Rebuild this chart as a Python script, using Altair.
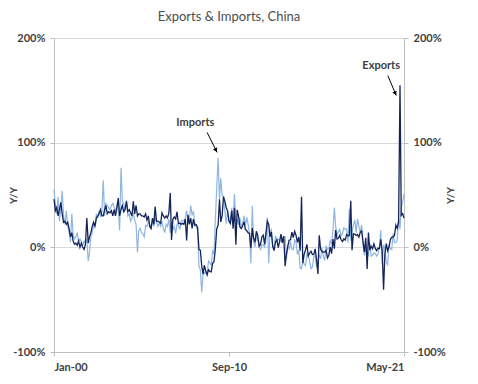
import altair as alt
import pandas as pd

# ---------------- data (Y/Y %, monthly Jan-2000 .. May-2021) ----------------
exports = [
    46, 35, 38, 30, 36, 43, 32, 24, 25, 22, 24, 18,          # 2000
    10, 14, 6, 3, 4, 2, 6, 0, 4, 0, -2, 3,                   # 2001
    28, 4, 10, 14, 20, 24, 20, 28, 30, 32, 36, 30,           # 2002
    30, 36, 40, 32, 34, 33, 35, 30, 36, 30, 38, 47,          # 2003
    30, 36, 40, 34, 36, 44, 34, 36, 33, 30, 44, 32,          # 2004
    40, 30, 32, 32, 30, 30, 29, 32, 26, 30, 20, 18,          # 2005
    28, 22, 39, 25, 25, 24, 23, 33, 30, 28, 30, 28,          # 2006
    33, 52, 7, 27, 29, 27, 34, 23, 23, 22, 23, 22,           # 2007
    27, 6.5, 31, 22, 28, 18, 27, 21, 21.5, 19, -2.2, -2.8,   # 2008
    -17.5, -25.7, -17.1, -22.6, -26.4, -21.4, -23, -23.4, -15.2, -13.8, -1.2, 17.7,  # 2009
    21, 45.7, 24.3, 30.5, 48.5, 43.9, 38.1, 34.4, 25.1, 22.9, 34.9, 17.9,            # 2010
    37.7, 2.4, 35.8, 29.9, 19.4, 17.9, 20.4, 24.5, 17.1, 15.9, 13.8, 13.4,           # 2011
    -0.5, 18.4, 8.9, 4.9, 15.3, 11.3, 1.0, 2.7, 9.9, 11.6, 2.9, 14.1,                # 2012
    25, 21.8, 10, 14.7, 1, -3.1, 5.1, 7.2, -0.3, 5.6, 12.7, 4.3,                     # 2013
    10.6, -18.1, -6.6, 0.9, 7, 7.2, 14.5, 9.4, 15.3, 11.6, 4.7, 9.7,                 # 2014
    -3.3, 48.3, -15, -6.4, -2.5, 2.8, -8.3, -5.5, -3.7, -6.9, -6.8, -1.4,            # 2015
    -11.2, -25.4, 11.5, -1.8, -4.1, -4.8, -4.4, -2.8, -10, -7.3, 0.1, -6.1,          # 2016
    7.9, -1.3, 16.4, 8, 8.7, 11.3, 7.2, 5.5, 8.1, 6.9, 12.3, 10.9,                   # 2017
    11.1, 44.5, -2.7, 12.9, 12.6, 11.3, 12.2, 9.8, 14.5, 15.6, 5.4, -4.4,            # 2018
    9.1, -20.7, 14.2, -2.7, 1.1, -1.3, 3.3, -1, -3.2, -0.9, -1.1, 7.6,               # 2019
    -3.5, -40.6, -6.6, 3.5, -3.3, 0.5, 7.2, 9.5, 9.9, 11.4, 21.1, 18.1,              # 2020
    24.7, 154.9, 30.6, 32.3, 27.9,                                                    # 2021
]
imports = [
    55, 40, 32, 48, 25, 38, 54, 30, 22, 35, 20, 15,          # 2000
    5, 32, 12, 8, 10, 14, 6, 8, 5, 2, 6, 4,                  # 2001
    8, -13, -5, 10, 14, 22, 18, 32, 28, 35, 30, 34,          # 2002
    64, 30, 42, 40, 38, 36, 40, 42, 38, 35, 40, 38,          # 2003
    16, 76, 44, 42, 36, 45, 30, 32, 25, 28, 32, 26,          # 2004
    22, -5, 16, 18, 14, 13, 10, 21, 20, 24, 22, 17,          # 2005
    25, 20, 29, 24, 20, 23, 20, 25, 18, 14, 22, 20,          # 2006
    27, 14, 24.5, 17, 20, 13.4, 22, 22, 17, 25.5, 25.3, 25.7,                        # 2007
    27.6, 35.2, 24.6, 26.3, 40, 31.2, 33.7, 23.1, 21.3, 15.6, -17.9, -21.3,          # 2008
    -43.1, -24.1, -25.1, -23, -25.2, -13.2, -14.9, -17, -3.5, -6.4, 26.7, 55.9,      # 2009
    85.5, 44.7, 66, 49.7, 48.3, 34.1, 22.7, 35.2, 24.1, 25.3, 37.7, 25.6,            # 2010
    51, 19.4, 27.3, 21.8, 28.4, 19.3, 22.9, 30.2, 20.9, 28.7, 22.1, 11.8,            # 2011
    -15.3, 39.6, 5.3, 0.3, 12.7, 6.3, 4.7, -2.6, 2.4, 2.4, 0, 6.0,                   # 2012
    28.8, -15.2, 14.1, 16.8, -0.3, -0.7, 10.9, 7, 7.4, 7.6, 5.3, 8.3,                # 2013
    10, 10.1, -11.3, 0.8, -1.6, 5.5, -1.6, -2.4, 7, 4.6, -6.7, -2.4,                 # 2014
    -19.9, -20.5, -12.7, -16.2, -17.6, -6.1, -8.1, -13.8, -20.4, -18.8, -8.7, -7.6,  # 2015
    -18.8, -13.8, -7.6, -10.9, -0.4, -8.4, -12.5, 1.5, -1.9, -1.4, 6.7, 3.1,         # 2016
    16.7, 38.1, 20.3, 11.9, 14.8, 17.2, 11, 13.3, 18.7, 17.2, 17.7, 4.5,             # 2017
    36.9, 6.3, 14.4, 21.5, 26, 14.1, 27.3, 20, 14.3, 21.4, 3, -7.6,                  # 2018
    -1.5, -5.2, -7.6, 4, -8.5, -7.3, -5.6, -5.6, -8.5, -6.4, 0.3, 16.3,              # 2019
    -16.2, 2.4, -0.9, -14.2, -16.7, 2.7, -1.4, -2.1, 13.2, 4.7, 4.5, 6.5,            # 2020
    27.9, 17.3, 38.1, 43.1, 51.1,                                                    # 2021
]
tick_labels = ["Jan-00", "Sep-10", "May-21"]
y_ticks = [-1, 0, 1, 2]

ann_labels = ["Imports", "Exports"]
ann_dates = ["2008-08-12T00:00:00", "2019-12-10T00:00:00"]
ann_values = [1.19, 1.73]
arrow_start_dates = ["2009-05-01T00:00:00", "2020-05-07T00:00:00"]
arrow_start_values = [1.098, 1.64]
arrow_end_dates = ["2009-12-10T00:00:00", "2020-11-10T00:00:00"]
arrow_end_values = [0.907, 1.45]
head_dates = ["2009-11-15T00:00:00", "2020-10-20T00:00:00"]
head_values = [0.928, 1.47]
head_angles = [333, 337]

# ---------------- tables ----------------
months = pd.date_range("2000-01-01", periods=len(exports), freq="MS")
df = pd.DataFrame({
    "date": months.strftime("%Y-%m-%dT00:00:00"),
    "Exports": [v / 100 for v in exports],
    "Imports": [v / 100 for v in imports],
})
ann = pd.DataFrame({"date": ann_dates, "value": ann_values, "label": ann_labels})
arrows = pd.DataFrame({
    "date": arrow_start_dates, "value": arrow_start_values,
    "date2": arrow_end_dates, "value2": arrow_end_values,
})
heads = pd.DataFrame({"date": head_dates, "value": head_values, "angle": head_angles})

FONT = "Lato"
LABEL = "#404040"
GRID = "#d9d9d9"
AXISC = "#bfbfbf"
DARK = "#14245a"
LIGHT = "#8fb6e0"

x_scale = alt.Scale(domain=[alt.DateTime(year=2000, month=1, date=1),
                            alt.DateTime(year=2021, month=5, date=1)], nice=False)
x_axis = alt.Axis(
    values=[alt.DateTime(year=2000, month=1, date=1),
            alt.DateTime(year=2010, month=9, date=1),
            alt.DateTime(year=2021, month=5, date=1)],
    format="%b-%y", grid=False, domainColor=AXISC, tickColor=AXISC,
    tickSize=4, labelPadding=5, title="",
)
y_scale = alt.Scale(domain=[-1, 2], nice=False, zero=False)
lab_expr = "round(datum.value*100) + '%'"
left_axis = alt.Axis(
    values=y_ticks, labelExpr=lab_expr, title="Y/Y", titleX=-41, titleBaseline="middle",
    titleAngle=270, grid=True, gridColor=GRID, domainColor=AXISC, tickColor=AXISC,
    tickSize=4, labelPadding=5,
)
right_axis = alt.Axis(
    values=y_ticks, labelExpr=lab_expr, title="Y/Y", titleX=46, titleBaseline="middle",
    titleAngle=270, orient="right", grid=False, domainColor=AXISC, tickColor=AXISC,
    tickSize=4, labelPadding=5,
)

x_enc = alt.X("date:T", scale=x_scale, axis=x_axis)

imp_line = alt.Chart(df).mark_line(color=LIGHT, strokeWidth=1.2).encode(
    x=x_enc, y=alt.Y("Imports:Q", scale=y_scale, axis=left_axis)
)
exp_line = alt.Chart(df).mark_line(color=DARK, strokeWidth=1.3).encode(
    x=x_enc, y=alt.Y("Exports:Q", scale=y_scale, axis=right_axis)
)
texts = alt.Chart(ann).mark_text(
    font=FONT, fontSize=11, fontWeight="bold", color=LABEL, baseline="middle", align="center"
).encode(x=x_enc, y=alt.Y("value:Q", scale=y_scale, axis=None), text="label:N")
rules = alt.Chart(arrows).mark_rule(color="black", strokeWidth=1).encode(
    x=x_enc, x2="date2:T",
    y=alt.Y("value:Q", scale=y_scale, axis=None), y2="value2:Q",
)
tips = alt.Chart(heads).mark_point(
    shape="triangle-down", filled=True, size=22, color="black", opacity=1
).encode(
    x=x_enc, y=alt.Y("value:Q", scale=y_scale, axis=None),
    angle=alt.Angle("angle:Q", scale=None),
)

chart = alt.layer(imp_line, exp_line, texts, rules, tips).resolve_scale(
    y="independent"
).properties(
    width=350, height=314,
    autosize=alt.AutoSizeParams(type="none"),
    padding={"left": 46, "top": 30, "right": 60, "bottom": 28},
    title=alt.TitleParams("Exports & Imports, China", font=FONT, fontSize=13,
                          fontWeight="normal", color="#4d4d4d", anchor="middle", offset=8),
).configure_axis(
    labelFont=FONT, labelFontSize=11, labelFontWeight="bold", labelColor=LABEL,
    titleFont=FONT, titleFontSize=10, titleFontWeight="bold", titleColor=LABEL,
).configure_view(strokeWidth=0)

chart.save("out.html", embed_options={"renderer": "svg", "actions": False})
